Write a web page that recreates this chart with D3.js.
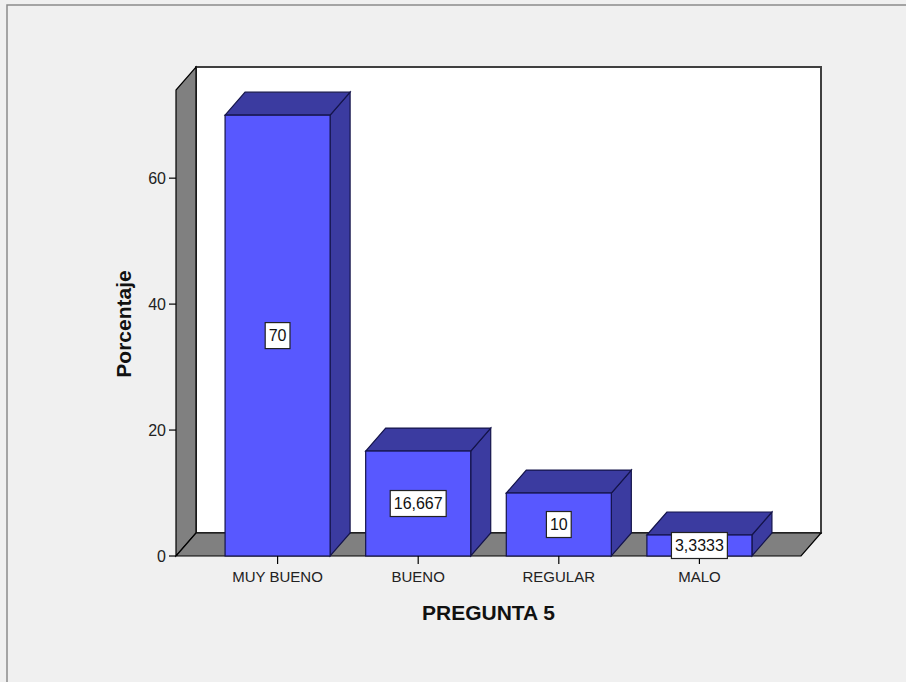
<!DOCTYPE html>
<html>
<head>
<meta charset="utf-8">
<script src="https://cdn.jsdelivr.net/npm/d3@7"></script>
<style>
  html, body { margin: 0; padding: 0; background: #f0f0f0; }
  svg { display: block; }
  text { font-family: "Liberation Sans", Arial, sans-serif; }
</style>
</head>
<body>
<svg id="chart" width="906" height="682"></svg>
<script>
// Survey answers for question 5 and their share of respondents (%)
const categories = ["MUY BUENO", "BUENO", "REGULAR", "MALO"];
const percentages = [70, 16.667, 10, 3.3333];
const yTicks = [0, 20, 40, 60];
const xTitle = "PREGUNTA 5";
const yTitle = "Porcentaje";

const W = 906, H = 682;
const svg = d3.select("#chart");

// Spanish number formatting (decimal comma)
const es = d3.formatLocale({ decimal: ",", thousands: ".", grouping: [3], currency: ["", " €"] });
const fmt = es.format(".5~g");

// Plot frame (front plane) and depth offset of the 3D box
const plotLeft = 176, plotRight = 801, plotBottom = 556, plotTop = 90;
const dx = 20, dy = -23;

const x = d3.scaleBand()
  .domain(categories)
  .range([plotLeft, plotRight])
  .paddingInner(0.253)
  .paddingOuter(0.349);

const y = d3.scaleLinear().domain([0, 74]).range([plotBottom, plotTop]);

// Outer panel border
svg.append("rect")
  .attr("x", 7).attr("y", 5)
  .attr("width", W + 20).attr("height", H + 20)
  .attr("fill", "#f0f0f0")
  .attr("stroke", "#8a8a8a").attr("stroke-width", 1.5);

// Back wall
svg.append("rect")
  .attr("x", plotLeft + dx).attr("y", plotTop + dy)
  .attr("width", plotRight - plotLeft).attr("height", plotBottom - plotTop)
  .attr("fill", "#ffffff")
  .attr("stroke", "#404040").attr("stroke-width", 2);

// Left side wall
svg.append("path")
  .attr("d", `M${plotLeft},${plotBottom} L${plotLeft},${plotTop} L${plotLeft + dx},${plotTop + dy} L${plotLeft + dx},${plotBottom + dy} Z`)
  .attr("fill", "#808080").attr("stroke", "#000").attr("stroke-width", 1.2);

// Floor
svg.append("path")
  .attr("d", `M${plotLeft},${plotBottom} L${plotRight},${plotBottom} L${plotRight + dx},${plotBottom + dy} L${plotLeft + dx},${plotBottom + dy} Z`)
  .attr("fill", "#808080").attr("stroke", "#000").attr("stroke-width", 1.2);

// Bars as boxes
const front = "#5858ff", shade = "#3b3ba0", edge = "#14144a";
const rows = categories.map((c, i) => ({ c, v: percentages[i] }));
const bars = svg.append("g").selectAll("g")
  .data(rows)
  .join("g");

bars.each(function(d) {
  const g = d3.select(this);
  const x0 = x(d.c), x1 = x0 + x.bandwidth(), yt = y(d.v);
  // side face
  g.append("path")
    .attr("d", `M${x1},${yt} L${x1 + dx},${yt + dy} L${x1 + dx},${plotBottom + dy} L${x1},${plotBottom} Z`)
    .attr("fill", shade).attr("stroke", edge).attr("stroke-width", 1.2);
  // top face
  g.append("path")
    .attr("d", `M${x0},${yt} L${x1},${yt} L${x1 + dx},${yt + dy} L${x0 + dx},${yt + dy} Z`)
    .attr("fill", shade).attr("stroke", edge).attr("stroke-width", 1.2);
  // front face
  g.append("rect")
    .attr("x", x0).attr("y", yt)
    .attr("width", x.bandwidth()).attr("height", plotBottom - yt)
    .attr("fill", front).attr("stroke", edge).attr("stroke-width", 1.2);
});

// Y axis ticks and labels on the front edge of the side wall
const yAxis = svg.append("g");
yAxis.selectAll("line").data(yTicks).join("line")
  .attr("x1", plotLeft - 7).attr("x2", plotLeft)
  .attr("y1", d => y(d)).attr("y2", d => y(d))
  .attr("stroke", "#000").attr("stroke-width", 1.2);
yAxis.selectAll("text").data(yTicks).join("text")
  .attr("x", plotLeft - 10).attr("y", d => y(d))
  .attr("dy", "0.36em")
  .attr("text-anchor", "end")
  .attr("font-size", 16).attr("fill", "#222")
  .text(d => d);

// X axis ticks and category labels
const xAxis = svg.append("g");
xAxis.selectAll("line").data(categories).join("line")
  .attr("x1", d => x(d) + x.bandwidth() / 2).attr("x2", d => x(d) + x.bandwidth() / 2)
  .attr("y1", plotBottom).attr("y2", plotBottom + 8)
  .attr("stroke", "#000").attr("stroke-width", 1.2);
xAxis.selectAll("text").data(categories).join("text")
  .attr("x", d => x(d) + x.bandwidth() / 2).attr("y", plotBottom + 26)
  .attr("text-anchor", "middle")
  .attr("font-size", 15).attr("fill", "#222")
  .text(d => d);

// Value labels in boxes at mid-height of each bar
const labels = svg.append("g").selectAll("g")
  .data(rows)
  .join("g")
  .attr("transform", d => `translate(${x(d.c) + x.bandwidth() / 2},${y(d.v / 2)})`);
labels.each(function(d) {
  const g = d3.select(this);
  const t = g.append("text")
    .attr("text-anchor", "middle").attr("dy", "0.36em")
    .attr("font-size", 16).attr("fill", "#111")
    .text(fmt(d.v));
  const w = t.node().getComputedTextLength() + 7, h = 26;
  g.insert("rect", "text")
    .attr("x", -w / 2).attr("y", -h / 2)
    .attr("width", w).attr("height", h)
    .attr("fill", "#fff").attr("stroke", "#222").attr("stroke-width", 1.2);
});

// Axis titles
svg.append("text")
  .attr("x", (plotLeft + plotRight) / 2).attr("y", 620)
  .attr("text-anchor", "middle")
  .attr("font-size", 21).attr("font-weight", "bold").attr("fill", "#111")
  .text(xTitle);

svg.append("text")
  .attr("transform", `translate(131,324) rotate(-90)`)
  .attr("text-anchor", "middle")
  .attr("font-size", 21).attr("font-weight", "bold").attr("fill", "#111")
  .text(yTitle);
</script>
</body>
</html>
